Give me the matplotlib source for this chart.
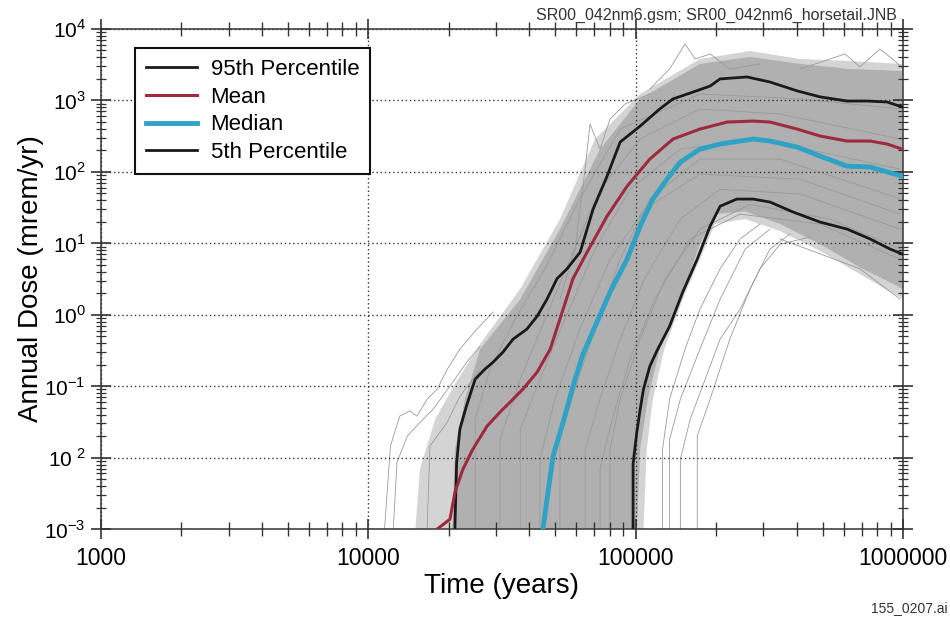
import matplotlib
matplotlib.use("Agg")
import matplotlib.pyplot as plt
from matplotlib.ticker import FixedLocator, FixedFormatter, LogLocator, NullFormatter

plt.rcParams["font.family"] = ["Liberation Sans", "DejaVu Sans"]
plt.rcParams["mathtext.fontset"] = "custom"
plt.rcParams["mathtext.rm"] = "Liberation Sans"

# summary curves (years, mrem/yr)
p95_t = [21100, 21100, 21400, 22000, 23300, 25100, 27300, 29300, 31900, 34800, 39200, 42800,
         46600, 50800, 55400, 62000, 69300, 78200, 87500, 104000, 123000, 138000, 164000,
         190000, 207000, 261000, 318000, 402000, 490000, 618000, 734000, 872000, 993000]
p95_d = [1e-3, 1.2e-3, 8.6e-3, 0.025, 0.053, 0.125, 0.173, 0.217, 0.30, 0.455, 0.63, 0.95,
         1.65, 3.2, 4.4, 7.5, 30, 87, 261, 438, 758, 1050, 1310,
         1590, 2000, 2130, 1810, 1360, 1120, 980, 980, 950, 810]

mean_t = [18100, 20200, 21100, 22600, 24600, 27800, 31100, 33900, 37900, 42800, 47900, 52100,
          58300, 65800, 78200, 92900, 113000, 138000, 174000, 220000, 275000, 318000, 402000,
          490000, 618000, 753000, 872000, 993000]
mean_d = [1e-3, 1.37e-3, 3.3e-3, 6.9e-3, 0.0131, 0.0275, 0.0433, 0.0597, 0.091, 0.157, 0.33, 0.87,
          3.2, 7.5, 24, 63, 151, 288, 397, 498, 514, 498, 397,
          317, 270, 270, 245, 208]

med_t = [45000, 46600, 49100, 53500, 58300, 63500, 71700, 80200, 92900, 104000, 116000, 131000,
         147000, 174000, 207000, 275000, 318000, 402000, 490000, 618000, 753000, 993000]
med_d = [1e-3, 2.6e-3, 0.0105, 0.031, 0.1, 0.28, 0.79, 2.07, 6.0, 17.4, 41.6, 79,
         137, 208, 245, 288, 270, 222, 166, 120, 117, 87]

p05_t = [97800, 97800, 101000, 104000, 107000, 113000, 120000, 134000, 150000, 170000, 190000,
         207000, 239000, 275000, 318000, 388000, 490000, 618000, 753000, 895000, 993000]
p05_d = [1e-3, 8.1e-3, 0.0227, 0.0477, 0.091, 0.19, 0.31, 0.69, 2.07, 6.0, 17.4,
         33, 41.6, 41.6, 37.8, 27.4, 19.8, 15.8, 11.5, 8.3, 7.1]

# outer (sparse) and inner (dense) outline of the cloud of realizations
fringe_t = [15000, 15600, 17800, 21100, 26200, 37000, 52100, 70500, 104000, 174000, 268000,
            412000, 634000, 1000000, 1000000, 690000, 490000, 347000, 257000, 198000, 174000,
            150000, 128000, 116000, 110000, 107000]
fringe_d = [1e-3, 0.0069, 0.0345, 0.107, 0.39, 2.3, 21.8, 288, 1230, 3800, 4920,
            3800, 3560, 3240, 1.65, 3.7, 7.8, 14.8, 21.8, 18.6, 6.0,
            1.65, 0.33, 0.066, 0.013, 1e-3]

cloud_t = [20600, 21100, 23000, 26200, 37000, 52100, 73600, 104000, 174000, 268000, 412000,
           634000, 1000000, 1000000, 690000, 490000, 347000, 257000, 198000, 174000, 147000,
           123000, 111000, 104000, 101000]
cloud_d = [1e-3, 0.013, 0.066, 0.33, 1.65, 15.8, 208, 1050, 3240, 4060, 3240,
           2750, 2580, 2.3, 4.6, 9.7, 18.6, 28, 25.6, 9.7, 1.65,
           0.33, 0.066, 0.013, 1e-3]

# individual realizations
real_t = [
    [11500, 12100, 13100, 14300, 15200, 16600, 18100, 19700, 22000, 25500, 29300],
    [12400, 12800, 14000, 15600, 17500, 20200, 23400, 26200],
    [16600, 17000, 19700, 22000, 26200],
    [170000, 170000, 190000, 225000, 268000, 318000, 378000],
    [126000, 126000, 134000, 153000, 174000, 207000, 246000, 292000],
    [147000, 147000, 160000, 182000, 207000, 246000, 292000, 347000, 449000],
    [134000, 134000, 147000, 174000, 207000, 257000, 318000],
    [347000, 490000, 690000, 975000],
    [52100, 59300, 64700, 67500, 73600, 80200, 91300, 113000],
    [113000, 134000, 153000, 167000, 190000, 225000, 292000],
    [412000, 533000, 607000, 690000, 820000, 933000, 1000000],
    [31100, 31100, 37000, 45800, 56900, 73600, 104000, 174000, 347000, 975000],
    [37000, 37000, 43900, 54400, 70500, 95300, 147000, 292000, 975000],
    [52100, 52100, 59300, 70500, 87500, 113000, 174000, 347000, 975000],
    [64700, 64700, 73600, 87500, 108000, 147000, 207000, 412000, 975000],
    [80200, 80200, 87500, 104000, 129000, 174000, 268000, 533000, 975000],
    [25100, 25100, 28500, 35400, 45800, 61900, 87500, 174000, 412000, 975000],
    [43900, 43900, 49900, 61900, 80200, 108000, 174000, 412000, 975000],
    [73600, 73600, 81700, 95300, 118000, 160000, 246000, 490000, 975000],
]
real_d = [
    [1e-3, 0.0145, 0.038, 0.045, 0.038, 0.066, 0.091, 0.17, 0.33, 0.63, 1.09],
    [1e-3, 0.0086, 0.020, 0.031, 0.048, 0.10, 0.22, 0.36],
    [1e-3, 0.0145, 0.031, 0.072, 0.17],
    [1e-3, 0.02, 0.066, 0.455, 2.3, 8.3, 13.5],
    [1e-3, 0.013, 0.066, 0.33, 1.2, 4.4, 11.5, 18.6],
    [1e-3, 0.0095, 0.0345, 0.125, 0.455, 1.2, 4.4, 9.7, 12.2],
    [1e-3, 0.018, 0.066, 0.33, 1.65, 8.3, 15.8],
    [11.5, 7.1, 4.4, 1.65],
    [1.65, 8.3, 109, 467, 208, 548, 891, 1230],
    [1450, 2750, 6170, 3800, 4470, 2750, 3240],
    [2750, 3800, 4470, 2940, 5250, 3560, 2750],
    [1e-3, 0.018, 0.125, 0.87, 6.0, 57, 288, 759, 646, 288],
    [1e-3, 0.025, 0.125, 0.87, 8.3, 57, 208, 288, 109],
    [1e-3, 0.018, 0.091, 0.63, 6.0, 42, 151, 151, 42],
    [1e-3, 0.013, 0.066, 0.455, 3.2, 21.8, 57, 49, 15.8],
    [1e-3, 0.013, 0.066, 0.455, 3.2, 15.8, 35, 21.8, 8.3],
    [1e-3, 0.0345, 0.17, 0.87, 4.4, 42, 397, 1230, 1050, 759],
    [1e-3, 0.0095, 0.066, 0.63, 6.0, 30, 93, 79, 25.6],
    [1e-3, 0.0069, 0.0345, 0.24, 1.65, 11.5, 25.6, 18.6, 6.0],
]

x_ticks = [1e3, 1e4, 1e5, 1e6]
x_labels = ["1000", "10000", "100000", "1000000"]
y_ticks = [1e-3, 1e-2, 1e-1, 1e0, 1e1, 1e2, 1e3, 1e4]
y_labels = ["$10^{-3}$", "$10^{\\ 2}$", "$10^{-1}$", "$10^{0}$", "$10^{1}$", "$10^{2}$", "$10^{3}$", "$10^{4}$"]

fig = plt.figure(figsize=(9.5, 6.22), dpi=100)
ax = fig.add_axes([0.1063, 0.1495, 0.8442, 0.8039])
ax.set_xscale("log")
ax.set_yscale("log")
ax.set_xlim(1e3, 1e6)
ax.set_ylim(1e-3, 1e4)

ax.fill(fringe_t, fringe_d, color="#d4d4d4", lw=0, zorder=1)
ax.fill(cloud_t, cloud_d, color="#b0b0b0", lw=0, zorder=1)
for t, d in zip(real_t, real_d):
    ax.plot(t, d, color="#9a9a9a", lw=0.6, zorder=2)

ax.plot(p95_t, p95_d, color="#1a1a1a", lw=2.0, label="95th Percentile", zorder=5)
ax.plot(mean_t, mean_d, color="#9e2a3e", lw=2.2, label="Mean", zorder=5)
ax.plot(med_t, med_d, color="#2fa3c6", lw=3.5, label="Median", zorder=5)
ax.plot(p05_t, p05_d, color="#1a1a1a", lw=2.0, label="5th Percentile", zorder=5)

ax.xaxis.set_major_locator(FixedLocator(x_ticks))
ax.xaxis.set_major_formatter(FixedFormatter(x_labels))
ax.xaxis.set_minor_locator(LogLocator(base=10, subs=range(2, 10)))
ax.xaxis.set_minor_formatter(NullFormatter())
ax.yaxis.set_major_locator(FixedLocator(y_ticks))
ax.yaxis.set_major_formatter(FixedFormatter(y_labels))
ax.yaxis.set_minor_locator(LogLocator(base=10, subs=range(2, 10)))
ax.yaxis.set_minor_formatter(NullFormatter())

ax.tick_params(which="both", direction="inout", top=True, right=True, color="#333333")
ax.tick_params(axis="x", which="major", length=14, width=1.2, labelsize=16.5, pad=6)
ax.tick_params(axis="x", which="minor", length=10, width=1.0)
ax.tick_params(axis="y", which="major", length=14, width=1.2, labelsize=15, pad=4)
ax.tick_params(axis="y", which="minor", length=7, width=0.9)
for s in ax.spines.values():
    s.set_color("#444444")
    s.set_linewidth(1.2)

ax.grid(True, which="major", ls=(0, (1, 2)), color="#333333", lw=1.0)
ax.set_axisbelow(False)

ax.set_xlabel("Time (years)", fontsize=20, labelpad=2)
ax.set_ylabel("Annual Dose (mrem/yr)", fontsize=20, labelpad=0)

leg = ax.legend(loc="upper left", bbox_to_anchor=(0.0424, 0.962), borderaxespad=0,
                fontsize=16, frameon=True, fancybox=False, handlelength=2.3,
                borderpad=0.5, labelspacing=0.3, handletextpad=0.6)
leg.get_frame().set_edgecolor("#111111")
leg.get_frame().set_linewidth(1.5)
leg.get_frame().set_alpha(1)

fig.text(0.944, 0.975, "SR00_042nm6.gsm; SR00_042nm6_horsetail.JNB", ha="right", va="center",
         fontsize=11.5, color="#333333")
fig.text(0.997, 0.022, "155_0207.ai", ha="right", va="center", fontsize=10, color="#333333")

fig.savefig("out.png", dpi=100)
